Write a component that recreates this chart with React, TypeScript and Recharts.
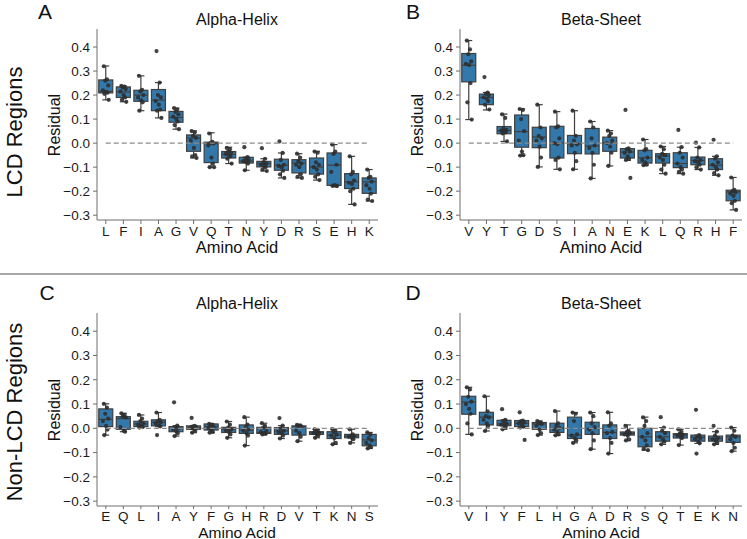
import React from "react";
import { ComposedChart, Bar, XAxis, YAxis, ReferenceLine } from "recharts";

const FONT = '"Liberation Sans", Arial, Helvetica, sans-serif';
const BOX_FILL = "#3278ab";
const EDGE = "#3f3f3f";
const DOT = "#2f2f2f";
const AXIS = "#6e6e6e";

const Y_TICKS = [-0.3, -0.2, -0.1, 0, 0.1, 0.2, 0.3, 0.4];
const Y_DOMAIN = [-0.32, 0.475];

// horizontal spread of the strip points, as a share of the box half-width
const JITTER = [-0.55, 0.35, -0.15, 0.7, -0.8, 0.1, 0.5, -0.4, 0.85, -0.65];

// A: LCD regions, alpha-helix   box = [whisker low, q1, median, q3, whisker high]
const lcdHelixAA = ["L", "F", "I", "A", "G", "V", "Q", "T", "N", "Y", "D", "R", "S", "E", "H", "K"];
const lcdHelixBox = [
  [0.18, 0.209, 0.215, 0.263, 0.321],
  [0.172, 0.19, 0.213, 0.234, 0.238],
  [0.135, 0.174, 0.2, 0.22, 0.28],
  [0.105, 0.135, 0.179, 0.223, 0.252],
  [0.058, 0.087, 0.107, 0.132, 0.146],
  [-0.062, -0.034, 0.021, 0.034, 0.051],
  [-0.1, -0.081, -0.002, 0.004, 0.043],
  [-0.085, -0.062, -0.047, -0.035, -0.017],
  [-0.113, -0.083, -0.075, -0.059, -0.058],
  [-0.116, -0.099, -0.085, -0.076, -0.065],
  [-0.145, -0.113, -0.092, -0.067, -0.041],
  [-0.145, -0.124, -0.083, -0.069, -0.044],
  [-0.154, -0.129, -0.099, -0.062, -0.034],
  [-0.179, -0.176, -0.092, -0.041, -0.006],
  [-0.255, -0.189, -0.161, -0.127, -0.055],
  [-0.241, -0.209, -0.161, -0.145, -0.11],
];
const lcdHelixPts = [
  [0.32, 0.265, 0.26, 0.24, 0.22, 0.213, 0.21, 0.205, 0.18],
  [0.238, 0.235, 0.232, 0.225, 0.215, 0.2, 0.19, 0.18, 0.172],
  [0.28, 0.222, 0.215, 0.2, 0.19, 0.178, 0.17, 0.135],
  [0.383, 0.252, 0.2, 0.19, 0.175, 0.16, 0.14, 0.135, 0.105],
  [0.146, 0.14, 0.13, 0.12, 0.11, 0.1, 0.09, 0.075, 0.058],
  [0.05, 0.045, 0.03, 0.022, 0.01, -0.02, -0.05, -0.055, -0.062],
  [0.04, 0.005, 0.0, -0.002, -0.01, -0.06, -0.085, -0.1, -0.1],
  [-0.02, -0.025, -0.035, -0.04, -0.045, -0.05, -0.055, -0.065, -0.085],
  [-0.017, -0.058, -0.065, -0.07, -0.075, -0.08, -0.085, -0.113],
  [-0.021, -0.065, -0.08, -0.085, -0.09, -0.095, -0.1, -0.11, -0.116],
  [0.007, -0.041, -0.07, -0.09, -0.095, -0.1, -0.115, -0.13, -0.145],
  [-0.044, -0.06, -0.075, -0.085, -0.09, -0.1, -0.13, -0.14, -0.145],
  [-0.035, -0.04, -0.08, -0.09, -0.1, -0.11, -0.13, -0.14, -0.154],
  [-0.006, -0.035, -0.045, -0.09, -0.12, -0.175, -0.177, -0.178, -0.179],
  [-0.055, -0.12, -0.13, -0.155, -0.165, -0.17, -0.19, -0.2, -0.255],
  [-0.11, -0.14, -0.145, -0.16, -0.175, -0.19, -0.21, -0.235, -0.241],
];

// B: LCD regions, beta-sheet
const lcdSheetAA = ["V", "Y", "T", "G", "D", "S", "I", "A", "N", "E", "K", "L", "Q", "R", "H", "F"];
const lcdSheetBox = [
  [0.098, 0.255, 0.324, 0.373, 0.427],
  [0.138, 0.16, 0.19, 0.204, 0.211],
  [0.007, 0.039, 0.052, 0.069, 0.121],
  [-0.052, -0.017, 0.048, 0.117, 0.142],
  [-0.099, -0.019, 0.025, 0.066, 0.16],
  [-0.109, -0.062, 0.0, 0.07, 0.131],
  [-0.109, -0.044, -0.003, 0.032, 0.135],
  [-0.147, -0.045, -0.012, 0.061, 0.09],
  [-0.095, -0.034, 0.001, 0.025, 0.052],
  [-0.072, -0.062, -0.037, -0.023, -0.023],
  [-0.092, -0.083, -0.061, -0.03, 0.015],
  [-0.127, -0.083, -0.054, -0.044, -0.014],
  [-0.127, -0.102, -0.085, -0.04, -0.017],
  [-0.11, -0.09, -0.072, -0.058, -0.018],
  [-0.134, -0.11, -0.092, -0.065, -0.055],
  [-0.278, -0.24, -0.203, -0.196, -0.143],
];
const lcdSheetPts = [
  [0.427, 0.39, 0.37, 0.34, 0.33, 0.325, 0.25, 0.17, 0.098],
  [0.275, 0.21, 0.205, 0.2, 0.19, 0.185, 0.175, 0.16, 0.14],
  [0.12, 0.105, 0.06, 0.055, 0.052, 0.05, 0.045, 0.04, 0.007],
  [0.142, 0.138, 0.1, 0.05, 0.01, -0.035, -0.05, -0.052],
  [0.16, 0.065, 0.03, 0.02, 0.01, -0.015, -0.06, -0.099],
  [0.131, 0.07, 0.065, 0.02, 0.0, -0.005, -0.06, -0.07, -0.109],
  [0.135, 0.03, 0.01, -0.005, -0.01, -0.04, -0.075, -0.109],
  [0.09, 0.065, 0.02, -0.01, -0.02, -0.04, -0.09, -0.147],
  [0.052, 0.04, 0.03, 0.01, 0.0, -0.015, -0.04, -0.095],
  [0.138, -0.022, -0.025, -0.035, -0.04, -0.055, -0.065, -0.07, -0.145],
  [0.015, -0.025, -0.03, -0.06, -0.07, -0.08, -0.09, -0.092],
  [-0.014, -0.025, -0.045, -0.05, -0.06, -0.07, -0.09, -0.11, -0.127],
  [0.055, -0.017, -0.04, -0.06, -0.085, -0.1, -0.11, -0.12, -0.127],
  [0.002, -0.018, -0.06, -0.07, -0.075, -0.08, -0.09, -0.1, -0.11],
  [0.014, -0.055, -0.065, -0.08, -0.09, -0.1, -0.11, -0.125, -0.134],
  [-0.143, -0.195, -0.2, -0.205, -0.21, -0.22, -0.24, -0.25, -0.278],
];

// C: non-LCD regions, alpha-helix
const nonHelixAA = ["E", "Q", "L", "I", "A", "Y", "F", "G", "H", "R", "D", "V", "T", "K", "N", "S"];
const nonHelixBox = [
  [-0.028, 0.007, 0.037, 0.08, 0.101],
  [-0.014, -0.004, 0.04, 0.048, 0.062],
  [0.003, 0.007, 0.018, 0.029, 0.055],
  [0.007, 0.01, 0.025, 0.035, 0.065],
  [-0.032, -0.014, 0.0, 0.007, 0.011],
  [-0.018, -0.004, 0.003, 0.01, 0.011],
  [-0.018, -0.007, 0.007, 0.018, 0.018],
  [-0.039, -0.017, -0.004, 0.004, 0.028],
  [-0.071, -0.021, -0.007, 0.014, 0.046],
  [-0.025, -0.021, -0.017, 0.004, 0.021],
  [-0.042, -0.025, -0.011, 0.003, 0.011],
  [-0.053, -0.028, 0.007, 0.01, 0.014],
  [-0.039, -0.025, -0.018, -0.014, -0.004],
  [-0.066, -0.042, -0.028, -0.014, -0.003],
  [-0.06, -0.039, -0.032, -0.025, -0.004],
  [-0.083, -0.072, -0.048, -0.025, -0.017],
];
const nonHelixPts = [
  [0.101, 0.085, 0.06, 0.04, 0.03, 0.01, -0.005, -0.028],
  [0.062, 0.055, 0.05, 0.045, 0.005, -0.01, -0.014],
  [0.055, 0.04, 0.03, 0.02, 0.015, 0.01, 0.005, 0.003],
  [0.065, 0.035, 0.03, 0.025, 0.02, 0.012, 0.008, -0.028],
  [0.107, 0.011, 0.005, 0.0, -0.005, -0.012, -0.02, -0.032],
  [0.043, 0.01, 0.008, 0.005, 0.002, -0.003, -0.01, -0.018],
  [0.018, 0.015, 0.01, 0.005, 0.0, -0.008, -0.015, -0.018],
  [0.028, 0.015, 0.003, -0.005, -0.01, -0.015, -0.025, -0.039],
  [0.046, 0.015, 0.005, -0.005, -0.01, -0.02, -0.03, -0.071],
  [0.021, 0.01, 0.003, -0.01, -0.015, -0.02, -0.023, -0.025],
  [0.042, 0.011, 0.0, -0.01, -0.015, -0.02, -0.03, -0.042],
  [0.014, 0.012, 0.01, 0.005, -0.01, -0.02, -0.035, -0.053],
  [-0.004, -0.01, -0.015, -0.018, -0.02, -0.025, -0.03, -0.039],
  [-0.003, -0.01, -0.015, -0.025, -0.03, -0.04, -0.06, -0.066],
  [-0.004, -0.025, -0.03, -0.033, -0.035, -0.04, -0.045, -0.06],
  [-0.017, -0.025, -0.04, -0.05, -0.06, -0.07, -0.078, -0.083],
];

// D: non-LCD regions, beta-sheet
const nonSheetAA = ["V", "I", "Y", "F", "L", "H", "G", "A", "D", "R", "S", "Q", "T", "E", "K", "N"];
const nonSheetBox = [
  [-0.025, 0.058, 0.108, 0.132, 0.169],
  [-0.011, 0.014, 0.046, 0.066, 0.132],
  [-0.004, 0.011, 0.018, 0.033, 0.035],
  [0.003, 0.007, 0.021, 0.032, 0.032],
  [-0.028, -0.004, 0.018, 0.024, 0.03],
  [-0.029, -0.017, 0.0, 0.021, 0.071],
  [-0.06, -0.042, -0.028, 0.046, 0.065],
  [-0.086, -0.025, -0.001, 0.025, 0.065],
  [-0.104, -0.042, -0.017, 0.014, 0.066],
  [-0.051, -0.028, -0.021, -0.015, 0.014],
  [-0.09, -0.076, -0.035, 0.0, 0.046],
  [-0.066, -0.053, -0.035, -0.014, 0.003],
  [-0.069, -0.04, -0.028, -0.022, -0.004],
  [-0.062, -0.053, -0.037, -0.028, -0.028],
  [-0.066, -0.053, -0.042, -0.032, -0.014],
  [-0.094, -0.058, -0.035, -0.028, 0.003],
];
const nonSheetPts = [
  [0.169, 0.16, 0.13, 0.11, 0.1, 0.08, 0.06, 0.02, -0.025],
  [0.132, 0.07, 0.05, 0.045, 0.035, 0.02, 0.01, -0.011],
  [0.079, 0.035, 0.03, 0.02, 0.015, 0.012, 0.005, -0.004],
  [0.066, 0.032, 0.03, 0.025, 0.02, 0.015, 0.007, 0.003, -0.048],
  [0.03, 0.025, 0.02, 0.018, 0.01, -0.005, -0.02, -0.028],
  [0.071, 0.02, 0.01, 0.002, -0.005, -0.015, -0.025, -0.029],
  [0.065, 0.06, 0.03, -0.025, -0.03, -0.04, -0.05, -0.06],
  [0.065, 0.05, 0.02, 0.005, -0.005, -0.02, -0.05, -0.086],
  [0.066, 0.02, 0.01, -0.015, -0.02, -0.04, -0.06, -0.104],
  [0.01, -0.01, -0.015, -0.02, -0.025, -0.03, -0.045, -0.05],
  [0.045, 0.03, 0.01, -0.02, -0.035, -0.05, -0.07, -0.085, -0.09],
  [0.046, 0.003, -0.01, -0.02, -0.035, -0.045, -0.055, -0.066],
  [-0.004, -0.015, -0.022, -0.028, -0.03, -0.035, -0.04, -0.069],
  [0.076, -0.028, -0.035, -0.04, -0.045, -0.055, -0.062, -0.104],
  [0.01, -0.014, -0.03, -0.04, -0.045, -0.05, -0.06, -0.066],
  [0.003, -0.01, -0.03, -0.035, -0.045, -0.06, -0.08, -0.094],
];

type Row = { aa: string; box: number[]; pts: number[]; span: [number, number] };

function buildRows(aa: string[], box: number[][], pts: number[][]): Row[] {
  return aa.map((a, i) => {
    const all = [...box[i], ...pts[i]];
    return { aa: a, box: box[i], pts: pts[i], span: [Math.min(...all), Math.max(...all)] };
  });
}

// the bar covers [min, max] of each group; everything else is placed inside that span
function BoxShape(props: any) {
  const { x, y, width, height, payload } = props;
  if (!payload) return null;
  const [lo, hi] = payload.span;
  const top = Math.min(y, y + height);
  const h = Math.abs(height);
  const py = (v: number) => top + ((hi - v) / (hi - lo)) * h;
  const cx = x + width / 2;
  const [wl, q1, md, q3, wh] = payload.box;
  const cap = width * 0.25;
  return (
    <g>
      <line x1={cx} x2={cx} y1={py(q3)} y2={py(wh)} stroke={EDGE} strokeWidth={1.2} />
      <line x1={cx} x2={cx} y1={py(q1)} y2={py(wl)} stroke={EDGE} strokeWidth={1.2} />
      <line x1={cx - cap} x2={cx + cap} y1={py(wh)} y2={py(wh)} stroke={EDGE} strokeWidth={1.2} />
      <line x1={cx - cap} x2={cx + cap} y1={py(wl)} y2={py(wl)} stroke={EDGE} strokeWidth={1.2} />
      <rect x={x} y={py(q3)} width={width} height={Math.max(py(q1) - py(q3), 0.5)} fill={BOX_FILL} stroke={EDGE} strokeWidth={1.2} />
      <line x1={x} x2={x + width} y1={py(md)} y2={py(md)} stroke={EDGE} strokeWidth={1.2} />
      {payload.pts.map((v: number, i: number) => (
        <circle key={i} cx={cx + JITTER[i % JITTER.length] * width * 0.25} cy={py(v)} r={2.1} fill={DOT} fillOpacity={0.9} />
      ))}
    </g>
  );
}

const fmt = (v: number) => (v < 0 ? "\u2212" : "") + Math.abs(v).toFixed(1);

function Panel({ rows, left, top, width, height, margin, xh, ts, tm }: any) {
  const tick = { fill: "#1a1a1a", fontSize: 13.5, fontFamily: FONT };
  return (
    <div style={{ position: "absolute", left, top }}>
      <ComposedChart width={width} height={height} data={rows} margin={margin} barCategoryGap="10%">
        <XAxis dataKey="aa" interval={0} height={xh} tickSize={ts} tickMargin={tm} tick={tick} stroke={AXIS} />
        <XAxis xAxisId="top" orientation="top" dataKey="aa" height={0} tick={false} tickLine={false} stroke={AXIS} />
        <YAxis domain={Y_DOMAIN} ticks={Y_TICKS} allowDataOverflow width={45} tickSize={4} tickMargin={3} tick={tick} tickFormatter={fmt} stroke={AXIS} />
        <YAxis yAxisId="right" orientation="right" width={0} tick={false} tickLine={false} stroke={AXIS} />
        <ReferenceLine
          segment={[{ x: rows[0].aa, y: 0 }, { x: rows[rows.length - 1].aa, y: 0 }]}
          stroke="#8c8c8c"
          strokeDasharray="5 3"
          strokeWidth={1.2}
        />
        <Bar dataKey="span" shape={BoxShape} isAnimationActive={false} />
      </ComposedChart>
    </div>
  );
}

export default function App() {
  const text = { fontFamily: FONT, fill: "#111" };
  return (
    <div style={{ position: "absolute", left: 0, top: 0, width: 747, height: 539, background: "#fff", overflow: "hidden" }}>
      <Panel rows={buildRows(lcdHelixAA, lcdHelixBox, lcdHelixPts)} left={0} top={0} width={385} height={270} xh={40} ts={4} tm={2}
        margin={{ top: 29, right: 7, bottom: 10, left: 52 }} />
      <Panel rows={buildRows(lcdSheetAA, lcdSheetBox, lcdSheetPts)} left={385} top={0} width={362} height={270} xh={40} ts={4} tm={2}
        margin={{ top: 29, right: 5, bottom: 10, left: 30 }} />
      <Panel rows={buildRows(nonHelixAA, nonHelixBox, nonHelixPts)} left={0} top={284} width={385} height={255} xh={30} ts={3} tm={2}
        margin={{ top: 29, right: 7, bottom: 3, left: 52 }} />
      <Panel rows={buildRows(nonSheetAA, nonSheetBox, nonSheetPts)} left={385} top={284} width={362} height={255} xh={30} ts={3} tm={2}
        margin={{ top: 29, right: 5, bottom: 3, left: 30 }} />
      <svg width={747} height={539} style={{ position: "absolute", left: 0, top: 0, pointerEvents: "none" }}>
        <line x1={0} x2={747} y1={274} y2={274} stroke="#8a8a8a" strokeWidth={1.5} />
        <text x={45} y={19} fontSize={21} textAnchor="middle" {...text}>A</text>
        <text x={413} y={19} fontSize={21} textAnchor="middle" {...text}>B</text>
        <text x={47} y={300} fontSize={21} textAnchor="middle" {...text}>C</text>
        <text x={413} y={300} fontSize={21} textAnchor="middle" {...text}>D</text>
        <text x={237} y={24.5} fontSize={16} textAnchor="middle" {...text}>Alpha-Helix</text>
        <text x={601} y={24.5} fontSize={16} textAnchor="middle" {...text}>Beta-Sheet</text>
        <text x={237} y={308.5} fontSize={16} textAnchor="middle" {...text}>Alpha-Helix</text>
        <text x={601} y={308.5} fontSize={16} textAnchor="middle" {...text}>Beta-Sheet</text>
        <text x={237} y={252.5} fontSize={16.5} textAnchor="middle" {...text}>Amino Acid</text>
        <text x={601} y={252.5} fontSize={16.5} textAnchor="middle" {...text}>Amino Acid</text>
        <text x={237} y={537.5} fontSize={15.5} textAnchor="middle" {...text}>Amino Acid</text>
        <text x={601} y={537.5} fontSize={15.5} textAnchor="middle" {...text}>Amino Acid</text>
        <text transform="translate(60,125) rotate(-90)" fontSize={16} textAnchor="middle" {...text}>Residual</text>
        <text transform="translate(423,125) rotate(-90)" fontSize={16} textAnchor="middle" {...text}>Residual</text>
        <text transform="translate(60,410) rotate(-90)" fontSize={16} textAnchor="middle" {...text}>Residual</text>
        <text transform="translate(423,410) rotate(-90)" fontSize={16} textAnchor="middle" {...text}>Residual</text>
        <text transform="translate(22,132) rotate(-90)" fontSize={22} textAnchor="middle" {...text}>LCD Regions</text>
        <text transform="translate(22,412) rotate(-90)" fontSize={22} textAnchor="middle" {...text}>Non-LCD Regions</text>
      </svg>
    </div>
  );
}
